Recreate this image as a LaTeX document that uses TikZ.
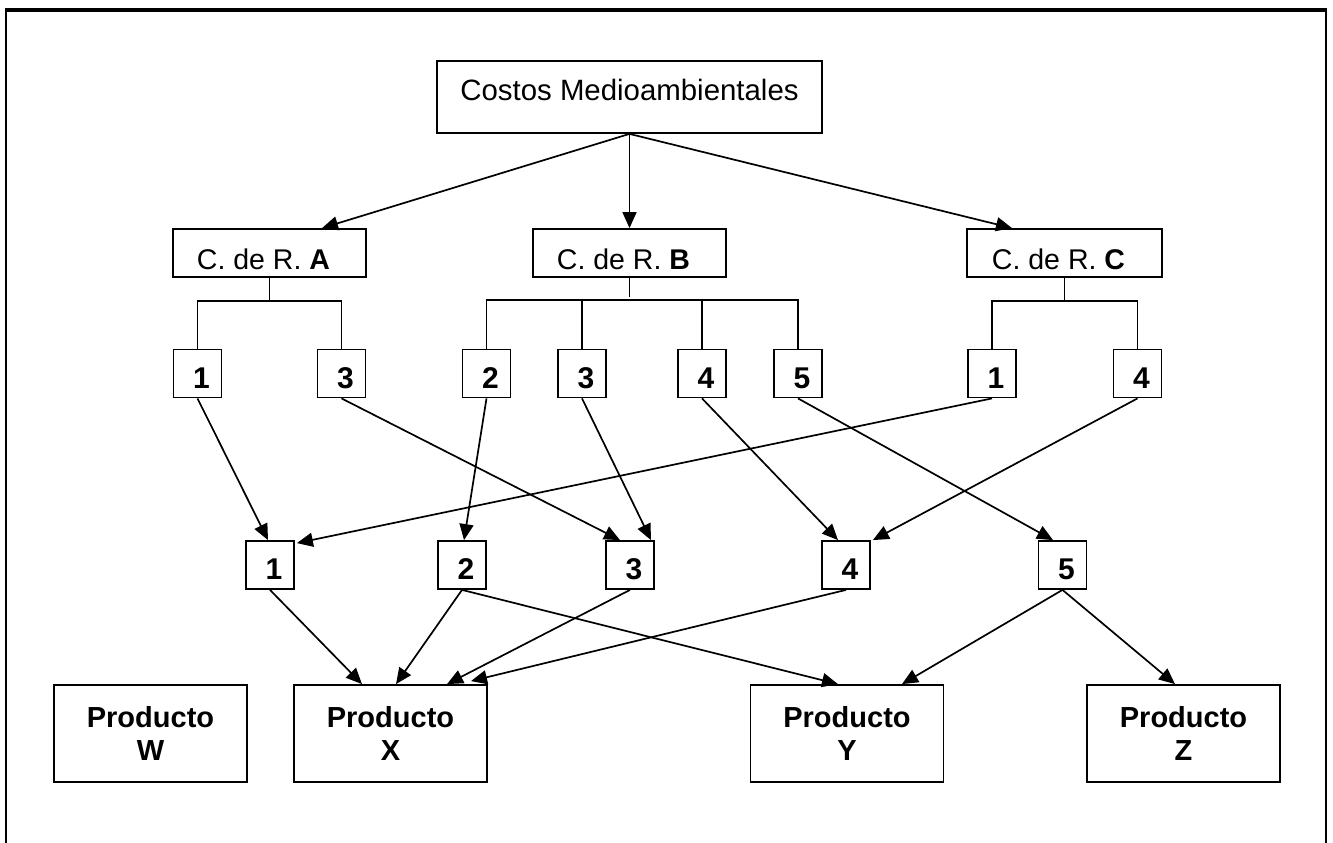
\documentclass[tikz,border=0pt]{standalone}
\usepackage{fontspec}
\setmainfont{Liberation Sans}
\usetikzlibrary{arrows.meta}
\begin{document}
\begin{tikzpicture}[x=1pt,y=-1pt,
  box/.style={draw, line width=1.8pt, rectangle, inner sep=0pt},
  topbox/.style={box, minimum width=385pt, minimum height=72pt,
    font=\fontsize{29.4}{34}\selectfont, text height=21pt, text depth=15pt},
  crbox/.style={box, minimum width=193pt, minimum height=48pt,
    font=\fontsize{28.5}{34}\selectfont, text height=32pt, text depth=0pt},
  numbox/.style={box, minimum width=48pt, minimum height=48pt,
    font=\fontsize{30}{34}\selectfont\bfseries, text height=29pt, text depth=0pt},
  prodbox/.style={box, minimum width=193pt, minimum height=97pt, align=center,
    font=\fontsize{29}{33}\selectfont\bfseries},
  conn/.style={line width=1.7pt},
  arr/.style={conn, -{Triangle[length=16pt,width=14pt]}}
]
\useasboundingbox (0,0) rectangle (1333,843);
% frame
\draw[line width=2pt] (6,843) -- (6,10) -- (1326,10) -- (1326,843);
\draw[line width=3.5pt] (5,10) -- (1327,10);

% nodes
\node[topbox] (cm) at (629.5,97) {Costos Medioambientales};
\node[crbox] (A) at (269.5,253) {C. de R. \textbf{A}\hspace*{12pt}};
\node[crbox] (B) at (629.5,253) {C. de R. \textbf{B}\hspace*{12pt}};
\node[crbox, minimum width=195pt] (C) at (1064.5,253) {C. de R. \textbf{C}\hspace*{12pt}};

\node[numbox] (A1) at (197.5,373.5) {\hspace*{8pt}1};
\node[numbox] (A3) at (341.5,373.5) {\hspace*{8pt}3};
\node[numbox] (B2) at (486.5,373.5) {\hspace*{8pt}2};
\node[numbox] (B3) at (582,373.5) {\hspace*{8pt}3};
\node[numbox] (B4) at (702,373.5) {\hspace*{8pt}4};
\node[numbox] (B5) at (798,373.5) {\hspace*{8pt}5};
\node[numbox] (C1) at (992,373.5) {\hspace*{8pt}1};
\node[numbox] (C4) at (1137.5,373.5) {\hspace*{8pt}4};

\node[numbox] (M1) at (270,565) {\hspace*{8pt}1};
\node[numbox] (M2) at (462,565) {\hspace*{8pt}2};
\node[numbox] (M3) at (630,565) {\hspace*{8pt}3};
\node[numbox] (M4) at (846,565) {\hspace*{8pt}4};
\node[numbox] (M5) at (1062.5,565) {\hspace*{8pt}5};

\node[prodbox] (W) at (150.5,733.5) {Producto\\W};
\node[prodbox] (X) at (390.5,733.5) {Producto\\X};
\node[prodbox] (Y) at (847,733.5) {Producto\\Y};
\node[prodbox] (Z) at (1183.5,733.5) {Producto\\Z};

% top arrows
\draw[arr] (cm.south) -- ([xshift=52.5pt]A.north);
\draw[arr] (cm.south) -- (B.north);
\draw[arr] (cm.south) -- ([xshift=-52.5pt]C.north);

% brackets
\coordinate (Ah) at (269.5,301);
\coordinate (Bh) at (629.5,300);
\coordinate (Ch) at (1064.5,301);
\draw[conn] (A.south) -- (Ah);
\draw[conn] (A1.north) -- (A1.north |- Ah) -- (A3.north |- Ah) -- (A3.north);
\draw[conn] (B.south) -- ([yshift=3pt]Bh);
\draw[conn] ([xshift=-1pt]B2.north |- Bh) -- ([xshift=1pt]B5.north |- Bh);
\foreach \n in {B2,B3,B4,B5} \draw[conn] (\n.north) -- ([yshift=1pt]\n.north |- Bh);
\draw[conn] (C.south) -- (Ch);
\draw[conn] (C1.north) -- (C1.north |- Ch) -- (C4.north |- Ch) -- (C4.north);

% top row to middle row
\draw[arr] (A1.south) -- ([xshift=-2pt]M1.north);
\draw[arr] (A3.south) -- ([xshift=-10pt]M3.north);
\draw[arr] (B2.south) -- ([xshift=2pt]M2.north);
\draw[arr] (B3.south) -- ([xshift=21pt]M3.north);
\draw[arr] (B4.south) -- ([xshift=-8pt]M4.north);
\draw[arr] (B5.south) -- ([xshift=-9.5pt]M5.north);
\draw[arr] (C1.south) -- ([xshift=2pt,yshift=-3pt]M1.north east);
\draw[arr] (C4.south) -- ([xshift=2pt]M4.north east);

% middle row to products
\draw[arr] (M1.south) -- ([xshift=-28.5pt]X.north);
\draw[arr] (M2.south) -- ([xshift=5.5pt]X.north);
\draw[arr] (M3.south) -- ([xshift=56.5pt]X.north);
\draw[arr] (M4.south) -- ([xshift=80.5pt,yshift=3pt]X.north);
\draw[arr] (M2.south) -- ([xshift=-9pt]Y.north);
\draw[arr] (M5.south) -- ([xshift=55pt]Y.north);
\draw[arr] (M5.south) -- ([xshift=-8.5pt]Z.north);
\end{tikzpicture}
\end{document}
